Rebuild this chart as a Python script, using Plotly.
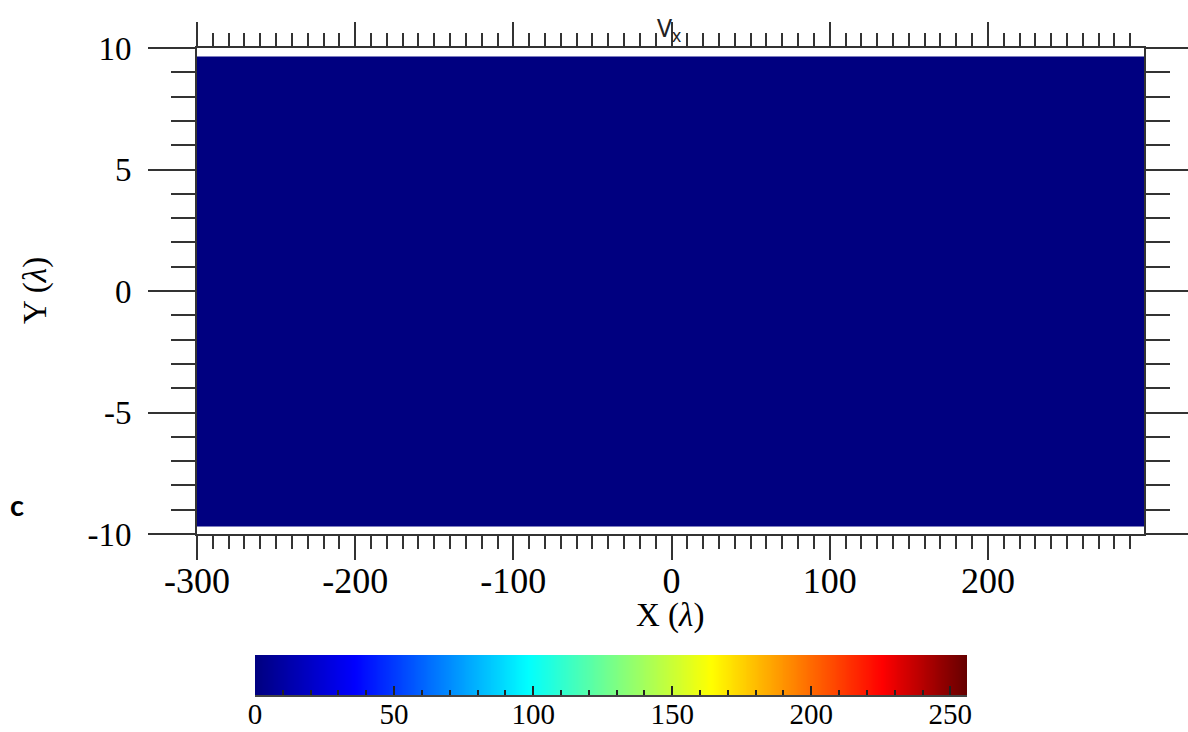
import plotly.graph_objects as go

# ---- data ----
x_edges = [-300, 298.7]          # extent of the field in X (lambda)
y_edges = [-9.7, 9.65]           # extent of the field in Y (lambda)
vx_field = [[0]]                 # V_x is uniformly 0 over the domain
cbar_values = list(range(0, 257))  # colour bar samples 0..256
x_tick_vals = [-300, -200, -100, 0, 100, 200]
x_tick_text = ["-300", "-200", "-100", "0", "100", "200"]
y_tick_vals = [-10, -5, 0, 5, 10]
y_tick_text = ["-10", "-5", "0", "5", "10"]
cbar_tick_vals = [0, 50, 100, 150, 200, 250]

colorscale = [
    [0.0, "rgb(0,0,128)"],
    [0.14, "rgb(0,0,255)"],
    [0.383, "rgb(0,255,255)"],
    [0.51, "rgb(128,255,128)"],
    [0.64, "rgb(255,255,0)"],
    [0.88, "rgb(255,0,0)"],
    [1.0, "rgb(100,0,0)"],
]

W, H = 1188, 732
def px_x(p): return p / W
def px_y(p): return 1 - p / H

SERIF = "Liberation Serif"
AX_COLOR = "#333333"

fig = go.Figure()
fig.add_trace(go.Heatmap(x=x_edges, y=y_edges, z=vx_field, colorscale=colorscale,
                         zmin=0, zmax=256, showscale=False, hoverinfo="skip"))
fig.add_trace(go.Heatmap(x=cbar_values, y=[0], z=[cbar_values], colorscale=colorscale,
                         zmin=0, zmax=256, showscale=False, zsmooth="best",
                         xaxis="x3", yaxis="y3", hoverinfo="skip"))

xr = [x_edges[0], x_edges[1]]
yr = [-10, 10]
xdom = [px_x(197), px_x(1144)]
ydom = [px_y(534), px_y(48)]

common = dict(showgrid=False, zeroline=False, showline=True, linecolor=AX_COLOR,
              linewidth=2, tickcolor=AX_COLOR, tickwidth=2, automargin=False,
              mirror="allticks")

fig.update_layout(
    width=W, height=H, margin=dict(l=0, r=0, t=0, b=0),
    paper_bgcolor="white", plot_bgcolor="white", template="none", showlegend=False,
    xaxis=dict(domain=xdom, range=xr, anchor="y", ticks="outside", ticklen=24,
               tickvals=x_tick_vals, ticktext=x_tick_text,
               minor=dict(ticks="outside", ticklen=13, dtick=10,
                          tick0=0, tickcolor=AX_COLOR, tickwidth=2),
               tickfont=dict(family=SERIF, size=36, color="black"),
               ticklabelstandoff=-10, **common),
    yaxis=dict(domain=ydom, range=yr, anchor="x", ticks="outside", ticklen=47,
               tickvals=y_tick_vals, ticktext=y_tick_text,
               minor=dict(ticks="outside", ticklen=24, dtick=1,
                          tick0=0, tickcolor=AX_COLOR, tickwidth=2),
               tickfont=dict(family=SERIF, size=33, color="black"),
               ticklabelstandoff=10, **common),
    xaxis3=dict(domain=[px_x(255), px_x(967)], range=[0, 256], anchor="y3",
                ticks="inside", ticklen=9, tickvals=cbar_tick_vals,
                minor=dict(ticks="inside", ticklen=5, dtick=10, tick0=0,
                           tickcolor="#222222", tickwidth=2),
                tickfont=dict(family=SERIF, size=29, color="black"),
                ticklabelstandoff=-8, showgrid=False, zeroline=False, showline=True,
                linecolor="#444444", linewidth=2, tickcolor="#222222", tickwidth=2,
                automargin=False),
    yaxis3=dict(domain=[px_y(695), px_y(655)], range=[-0.5, 0.5], anchor="x3",
                visible=False, automargin=False),
)

fig.add_annotation(text="V<sub>x</sub>", xref="paper", yref="paper", x=px_x(655), y=px_y(8),
                   xanchor="left", yanchor="top", showarrow=False,
                   font=dict(family="Noto Sans", size=25, color="#222222"))
fig.add_annotation(text="<b>c</b>", xref="paper", yref="paper", x=px_x(17), y=px_y(504),
                   xanchor="center", yanchor="middle", showarrow=False,
                   font=dict(family="Lato", size=29, color="black"))
fig.add_annotation(text="X (<i>λ</i>)", xref="paper", yref="paper", x=px_x(670), y=px_y(615),
                   xanchor="center", yanchor="middle", showarrow=False,
                   font=dict(family=SERIF, size=33, color="black"))
fig.add_annotation(text="Y (<i>λ</i>)", xref="paper", yref="paper", x=px_x(36), y=px_y(291),
                   xanchor="center", yanchor="middle", showarrow=False, textangle=-90,
                   font=dict(family=SERIF, size=33, color="black"))

fig.write_html("out.html", config={"displayModeBar": False},
               post_script="document.body.style.margin='0';document.body.style.overflow='hidden';")
